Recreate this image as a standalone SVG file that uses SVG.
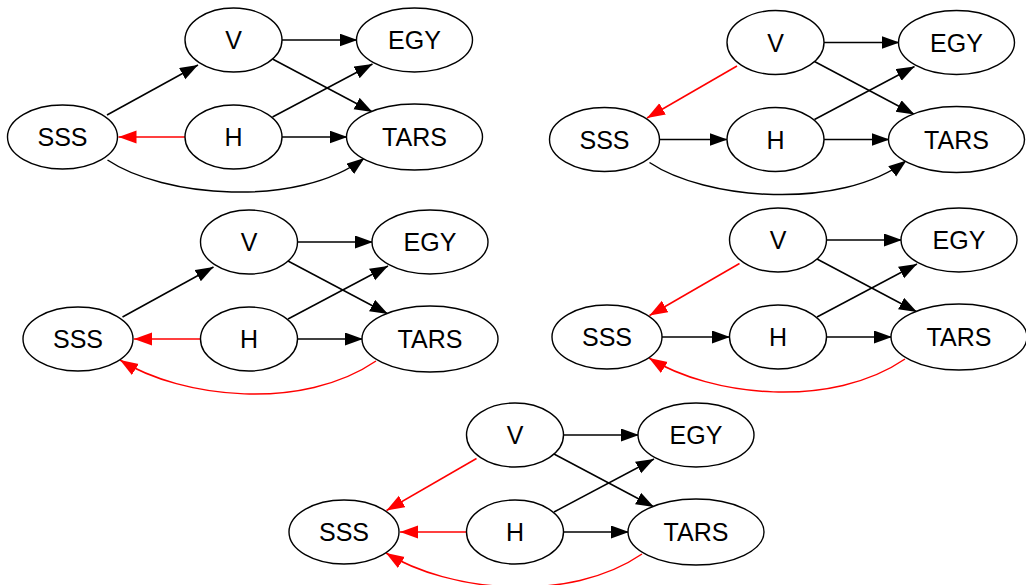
<svg xmlns="http://www.w3.org/2000/svg" width="1026" height="585" viewBox="0 0 1026 585">
<style>
.n ellipse{fill:#fff;stroke:#000;stroke-width:1.4}
.n text{font-family:"Liberation Sans",Arial,sans-serif;font-size:25px;text-anchor:middle;fill:#000}
.e{fill:none;stroke:#000;stroke-width:1.5;marker-end:url(#ab)}
.r{fill:none;stroke:#f00;stroke-width:1.5;marker-end:url(#ar)}
</style>
<defs>
<marker id="ab" markerUnits="userSpaceOnUse" markerWidth="19" markerHeight="14" refX="18" refY="6.5" orient="auto"><path d="M0,0 L18,6.5 L0,13 z" fill="#000"/></marker>
<marker id="ar" markerUnits="userSpaceOnUse" markerWidth="19" markerHeight="14" refX="18" refY="6.5" orient="auto"><path d="M0,0 L18,6.5 L0,13 z" fill="#f00"/></marker>
</defs>
<rect width="1026" height="585" fill="#fff"/>

<!-- Graph 1 -->
<g id="graph1" transform="translate(62.5,137)">
<g id="g1-edges">
<path class="e" d="M44.5,-22 L135.5,-72"/>
<path class="e" d="M219.5,-97 L295,-97"/>
<path class="e" d="M210,-78 L310,-25"/>
<path class="e" d="M210,-20 L310,-73"/>
<path class="e" d="M219.5,0 L285,0"/>
<path class="r" d="M122.5,0 L56,0"/>
<path class="e" d="M45,23 C100,60 235,72 302,21"/>
</g>
<g id="g1-SSS" class="n"><ellipse cx="0" cy="0" rx="55" ry="32"/><text x="0" y="9">SSS</text></g>
<g id="g1-V" class="n"><ellipse cx="171" cy="-97" rx="48.5" ry="32"/><text x="171" y="-88">V</text></g>
<g id="g1-H" class="n"><ellipse cx="171" cy="0" rx="48.5" ry="32"/><text x="171" y="9">H</text></g>
<g id="g1-EGY" class="n"><ellipse cx="352" cy="-97" rx="58" ry="32"/><text x="352" y="-88">EGY</text></g>
<g id="g1-TARS" class="n"><ellipse cx="352" cy="0" rx="68" ry="33"/><text x="352" y="9">TARS</text></g>
</g>

<!-- Graph 2 -->
<g id="graph2" transform="translate(604.5,139.5)">
<g id="g2-edges">
<path class="r" d="M132.5,-73.5 L42.5,-21.5"/>
<path class="e" d="M55,0 L123,0"/>
<path class="e" d="M219.5,-97 L295,-97"/>
<path class="e" d="M210,-78 L310,-25"/>
<path class="e" d="M210,-20 L310,-73"/>
<path class="e" d="M219.5,0 L285,0"/>
<path class="e" d="M45,23 C100,60 235,72 302,21"/>
</g>
<g id="g2-SSS" class="n"><ellipse cx="0" cy="0" rx="55" ry="32"/><text x="0" y="9">SSS</text></g>
<g id="g2-V" class="n"><ellipse cx="171" cy="-97" rx="48.5" ry="32"/><text x="171" y="-88">V</text></g>
<g id="g2-H" class="n"><ellipse cx="171" cy="0" rx="48.5" ry="32"/><text x="171" y="9">H</text></g>
<g id="g2-EGY" class="n"><ellipse cx="352" cy="-97" rx="58" ry="32"/><text x="352" y="-88">EGY</text></g>
<g id="g2-TARS" class="n"><ellipse cx="352" cy="0" rx="68" ry="33"/><text x="352" y="9">TARS</text></g>
</g>

<!-- Graph 3 -->
<g id="graph3" transform="translate(78,339)">
<g id="g3-edges">
<path class="e" d="M44.5,-22 L135.5,-72"/>
<path class="e" d="M219.5,-97 L295,-97"/>
<path class="e" d="M210,-78 L310,-25"/>
<path class="e" d="M210,-20 L310,-73"/>
<path class="e" d="M219.5,0 L285,0"/>
<path class="r" d="M122.5,0 L56,0"/>
<path class="r" d="M298,22 C225,72 105,60 42,21"/>
</g>
<g id="g3-SSS" class="n"><ellipse cx="0" cy="0" rx="55" ry="32"/><text x="0" y="9">SSS</text></g>
<g id="g3-V" class="n"><ellipse cx="171" cy="-97" rx="48.5" ry="32"/><text x="171" y="-88">V</text></g>
<g id="g3-H" class="n"><ellipse cx="171" cy="0" rx="48.5" ry="32"/><text x="171" y="9">H</text></g>
<g id="g3-EGY" class="n"><ellipse cx="352" cy="-97" rx="58" ry="32"/><text x="352" y="-88">EGY</text></g>
<g id="g3-TARS" class="n"><ellipse cx="352" cy="0" rx="68" ry="33"/><text x="352" y="9">TARS</text></g>
</g>

<!-- Graph 4 -->
<g id="graph4" transform="translate(607,337)">
<g id="g4-edges">
<path class="r" d="M132.5,-73.5 L42.5,-21.5"/>
<path class="e" d="M55,0 L123,0"/>
<path class="e" d="M219.5,-97 L295,-97"/>
<path class="e" d="M210,-78 L310,-25"/>
<path class="e" d="M210,-20 L310,-73"/>
<path class="e" d="M219.5,0 L285,0"/>
<path class="r" d="M298,22 C225,72 105,60 42,21"/>
</g>
<g id="g4-SSS" class="n"><ellipse cx="0" cy="0" rx="55" ry="32"/><text x="0" y="9">SSS</text></g>
<g id="g4-V" class="n"><ellipse cx="171" cy="-97" rx="48.5" ry="32"/><text x="171" y="-88">V</text></g>
<g id="g4-H" class="n"><ellipse cx="171" cy="0" rx="48.5" ry="32"/><text x="171" y="9">H</text></g>
<g id="g4-EGY" class="n"><ellipse cx="352" cy="-97" rx="58" ry="32"/><text x="352" y="-88">EGY</text></g>
<g id="g4-TARS" class="n"><ellipse cx="352" cy="0" rx="68" ry="33"/><text x="352" y="9">TARS</text></g>
</g>

<!-- Graph 5 -->
<g id="graph5" transform="translate(344,532)">
<g id="g5-edges">
<path class="r" d="M132.5,-73.5 L42.5,-21.5"/>
<path class="r" d="M122.5,0 L56,0"/>
<path class="e" d="M219.5,-97 L295,-97"/>
<path class="e" d="M210,-78 L310,-25"/>
<path class="e" d="M210,-20 L310,-73"/>
<path class="e" d="M219.5,0 L285,0"/>
<path class="r" d="M298,22 C225,72 105,60 42,21"/>
</g>
<g id="g5-SSS" class="n"><ellipse cx="0" cy="0" rx="55" ry="32"/><text x="0" y="9">SSS</text></g>
<g id="g5-V" class="n"><ellipse cx="171" cy="-97" rx="48.5" ry="32"/><text x="171" y="-88">V</text></g>
<g id="g5-H" class="n"><ellipse cx="171" cy="0" rx="48.5" ry="32"/><text x="171" y="9">H</text></g>
<g id="g5-EGY" class="n"><ellipse cx="352" cy="-97" rx="58" ry="32"/><text x="352" y="-88">EGY</text></g>
<g id="g5-TARS" class="n"><ellipse cx="352" cy="0" rx="68" ry="33"/><text x="352" y="9">TARS</text></g>
</g>
</svg>
